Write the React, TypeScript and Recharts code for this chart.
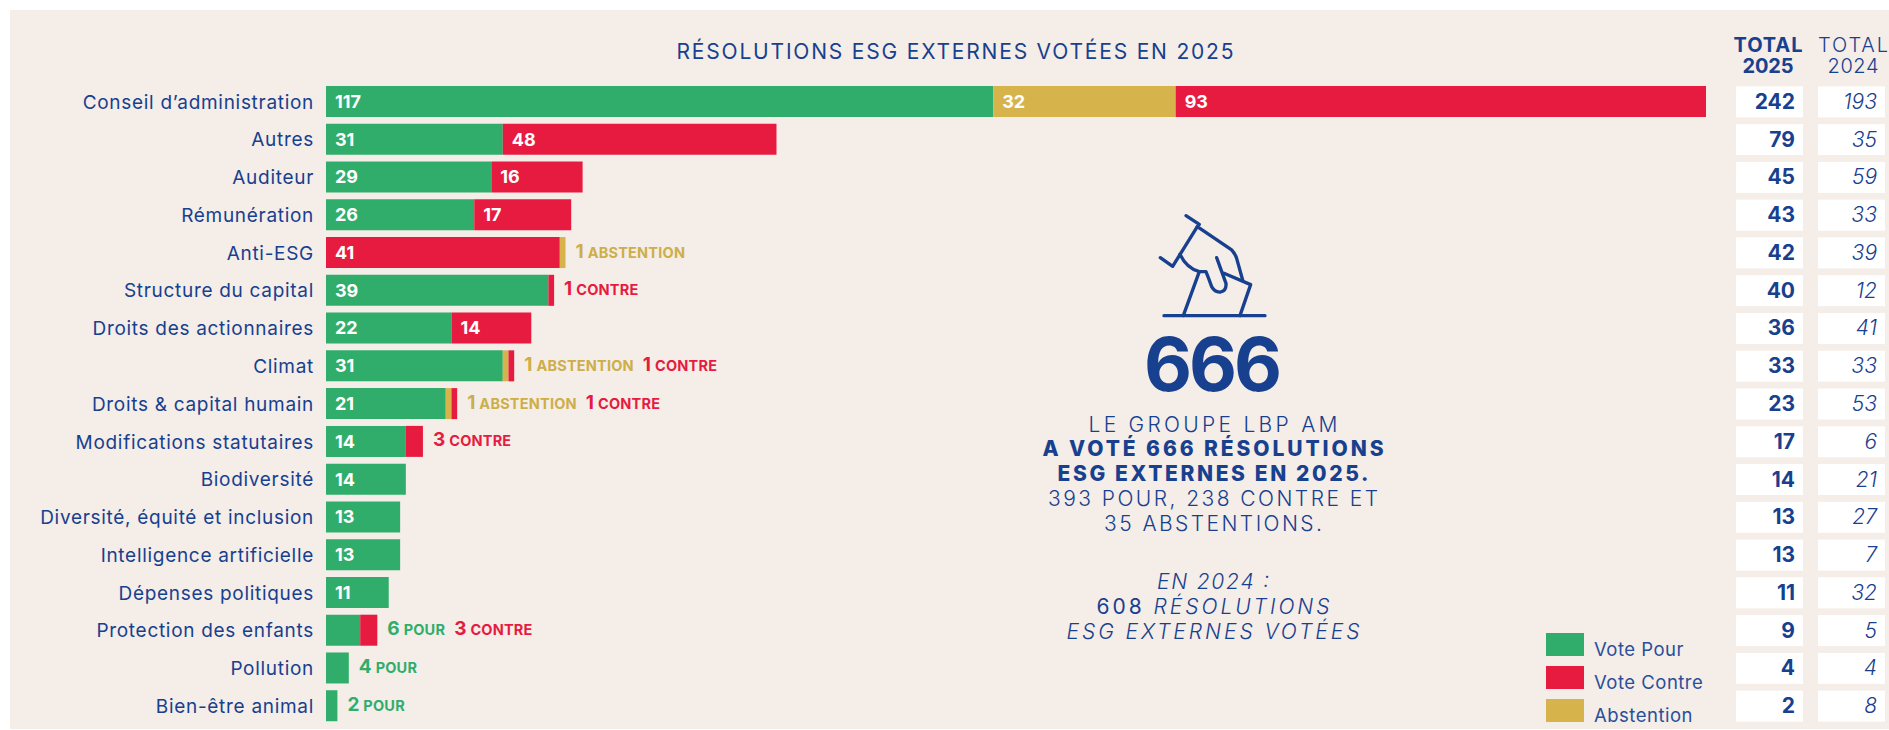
import * as React from "react";
import { BarChart, Bar, XAxis, YAxis, LabelList, Legend } from "recharts";

const categories = [
  "Conseil d’administration", "Autres", "Auditeur", "Rémunération", "Anti-ESG",
  "Structure du capital", "Droits des actionnaires", "Climat", "Droits & capital humain",
  "Modifications statutaires", "Biodiversité", "Diversité, équité et inclusion",
  "Intelligence artificielle", "Dépenses politiques", "Protection des enfants",
  "Pollution", "Bien-être animal",
];
const votePour = [117, 31, 29, 26, 0, 39, 22, 31, 21, 14, 14, 13, 13, 11, 6, 4, 2];
const abstention = [32, 0, 0, 0, 0, 0, 0, 1, 1, 0, 0, 0, 0, 0, 0, 0, 0];
const voteContre = [93, 48, 16, 17, 41, 1, 14, 1, 1, 3, 0, 0, 0, 0, 3, 0, 0];
// Anti-ESG has its abstention after the red segment
const abstentionFin = [0, 0, 0, 0, 1, 0, 0, 0, 0, 0, 0, 0, 0, 0, 0, 0, 0];
const total2025 = [242, 79, 45, 43, 42, 40, 36, 33, 23, 17, 14, 13, 13, 11, 9, 4, 2];
const total2024 = [193, 35, 59, 33, 39, 12, 41, 33, 53, 6, 21, 27, 7, 32, 5, 4, 8];
const legendOrder = ["Vote Pour", "Vote Contre", "Abstention"];

const GREEN = "#30AD6A";
const RED = "#E61B3F";
const GOLD = "#D6B44B";
const NAVY = "#17408F";
const FONT = "Inter, 'Noto Sans', sans-serif";

const PLOT_TOP = 83;
const PLOT_BOTTOM = 5;
const ROW = (730 - PLOT_TOP - PLOT_BOTTOM) / categories.length;

const stackOrder = [votePour, abstention, voteContre, abstentionFin];

const data = categories.map((category, i) => ({
  category,
  pour: votePour[i],
  abstention: abstention[i],
  contre: voteContre[i],
  abstentionFin: abstentionFin[i],
}));

const inner = (v: any) => (v >= 11 ? v : "");

function notesFor(i: number) {
  const out: Array<{ n: number; label: string; color: string }> = [];
  if (votePour[i] > 0 && votePour[i] < 11) out.push({ n: votePour[i], label: "POUR", color: GREEN });
  if (abstention[i] > 0 && abstention[i] < 11) out.push({ n: abstention[i], label: "ABSTENTION", color: "#CDAE48" });
  if (abstentionFin[i] > 0) out.push({ n: abstentionFin[i], label: "ABSTENTION", color: "#CDAE48" });
  if (voteContre[i] > 0 && voteContre[i] < 11) out.push({ n: voteContre[i], label: "CONTRE", color: RED });
  return out;
}

// the notes hang off whichever segment closes the row
// LabelList index skips empty segments, so the row comes from y
function NoteLabel(props: any) {
  const { x, y, width, height, series } = props;
  const row = Math.floor((y + height / 2 - PLOT_TOP) / ROW);
  const last = stackOrder.reduce((acc, s, k) => (s[row] > 0 ? k : acc), 0);
  if (last !== series) return null;
  const notes = notesFor(row);
  if (!notes.length) return null;
  return (
    <text x={x + width + 10} y={y + height / 2 + 5} fontFamily={FONT} fontWeight={700}>
      {notes.map((n, k) => (
        <React.Fragment key={k}>
          <tspan fontSize={19} fill={n.color} dx={k ? 9 : 0}>{n.n}</tspan>
          <tspan fontSize={14.5} fill={n.color} dx={4} letterSpacing={0.2}>{n.label}</tspan>
        </React.Fragment>
      ))}
    </text>
  );
}

function TotalsTick(props: any) {
  const { y, index } = props;
  return (
    <g fontFamily={FONT} fontSize={21}>
      <rect x={1736} y={y - 15.5} width={67} height={31} fill="#fff" />
      <rect x={1818} y={y - 15.5} width={67} height={31} fill="#fff" />
      <text x={1795} y={y + 7} textAnchor="end" fontWeight={700} fill={NAVY}>{total2025[index]}</text>
      <text x={1877} y={y + 7} textAnchor="end" fontWeight={300} fontStyle="italic" fill={NAVY}>{total2024[index]}</text>
    </g>
  );
}

function LegendBox(props: any) {
  const items = legendOrder.map((name) => props.payload.find((p: any) => p.value === name)).filter(Boolean);
  return (
    <div style={{ fontFamily: FONT, fontSize: 18.5, color: "#2A4F9A" }}>
      {items.map((item: any) => (
        <div key={item.value} style={{ display: "flex", height: 33 }}>
          <span style={{ width: 38, height: 23, background: item.color, marginRight: 10 }} />
          <span style={{ lineHeight: "32px", letterSpacing: 0.5, whiteSpace: "nowrap" }}>{item.value}</span>
        </div>
      ))}
    </div>
  );
}

function Line({ y, w, weight = 300, italic = false, size = 21, children }: any) {
  return (
    <text x={1213} y={y} textAnchor="middle" textLength={w} fontFamily={FONT} fontSize={size} fontWeight={weight}
      fontStyle={italic ? "italic" : "normal"} fill={NAVY}>
      {children}
    </text>
  );
}

export default function App() {
  return (
    <div style={{ position: "absolute", left: 0, top: 0, width: 1889, height: 730, background: "#fff" }}>
      <div style={{ position: "absolute", left: 10, top: 10, width: 1879, height: 719, background: "#F4EDE8" }} />
      <div style={{ position: "absolute", left: 0, top: 0 }}>
        <BarChart width={1889} height={730} data={data} layout="vertical" barSize={31}
          margin={{ top: PLOT_TOP, right: 0, bottom: PLOT_BOTTOM, left: 0 }}>
          <XAxis type="number" hide domain={[0, 242]} />
          <YAxis type="category" dataKey="category" width={326} interval={0} axisLine={false} tickLine={false}
            tickSize={0} tickMargin={12} tick={{ fontFamily: FONT, fontSize: 19, fill: NAVY, letterSpacing: 0.7 }} />
          <YAxis yAxisId="totals" orientation="right" type="category" dataKey="category" width={183} interval={0}
            axisLine={false} tickLine={false} tick={<TotalsTick />} />
          <Bar dataKey="pour" name="Vote Pour" stackId="a" fill={GREEN} isAnimationActive={false}>
            <LabelList dataKey="pour" position="insideLeft" offset={9} formatter={inner} fill="#fff" fontFamily={FONT} fontSize={18} fontWeight={700} />
            <LabelList dataKey="pour" content={<NoteLabel series={0} />} />
          </Bar>
          <Bar dataKey="abstention" name="Abstention" stackId="a" fill={GOLD} isAnimationActive={false}>
            <LabelList dataKey="abstention" position="insideLeft" offset={9} formatter={inner} fill="#fff" fontFamily={FONT} fontSize={18} fontWeight={700} />
            <LabelList dataKey="abstention" content={<NoteLabel series={1} />} />
          </Bar>
          <Bar dataKey="contre" name="Vote Contre" stackId="a" fill={RED} isAnimationActive={false}>
            <LabelList dataKey="contre" position="insideLeft" offset={9} formatter={inner} fill="#fff" fontFamily={FONT} fontSize={18} fontWeight={700} />
            <LabelList dataKey="contre" content={<NoteLabel series={2} />} />
          </Bar>
          <Bar dataKey="abstentionFin" stackId="a" fill={GOLD} legendType="none" isAnimationActive={false}>
            <LabelList dataKey="abstentionFin" content={<NoteLabel series={3} />} />
          </Bar>
          <Legend layout="horizontal" align="center" verticalAlign="middle" content={<LegendBox />}
            wrapperStyle={{ left: 1546, top: 633, width: 200, bottom: "auto", right: "auto" }} />

          <text x={955} y={59} textAnchor="middle" textLength={557} fontFamily={FONT} fontSize={21} fill={NAVY}>
            RÉSOLUTIONS ESG EXTERNES VOTÉES EN 2025
          </text>
          <g fontFamily={FONT} fontSize={20} textAnchor="middle" fill={NAVY}>
            <text x={1768} y={52} fontWeight={700} textLength={69}>TOTAL</text>
            <text x={1768} y={73} fontWeight={700} textLength={51}>2025</text>
            <text x={1853} y={52} fontWeight={300} textLength={70}>TOTAL</text>
            <text x={1853} y={73} fontWeight={300} textLength={51}>2024</text>
          </g>

          {/* ballot icon */}
          <g transform="translate(1000,190) scale(0.3333)" fill="none" stroke={NAVY} strokeWidth={10} strokeLinecap="round" strokeLinejoin="round">
            <path d="M558 77 L598 103" />
            <path d="M592 110 L695 180 Q705 190 710 205 L728 270" />
            <path d="M592 110 L518 229 L481 203" />
            <path d="M540 193 Q560 235 598 245 L618 245 Q628 270 635 290 Q645 308 662 306 Q680 302 678 280 L650 203" />
            <path d="M672 250 L752 284 L720 377" />
            <path d="M598 245 L550 377" />
            <path d="M492 377 L795 377" />
          </g>

          <text x={1213} y={391} textAnchor="middle" textLength={138} fontFamily={FONT} fontSize={74} fontWeight={700} fill={NAVY}>666</text>
          <Line y={432} w={249}>LE GROUPE LBP AM</Line>
          <Line y={456} w={341} weight={800}>A VOTÉ 666 RÉSOLUTIONS</Line>
          <Line y={481} w={311} weight={800}>ESG EXTERNES EN 2025.</Line>
          <Line y={506} w={330}>393 POUR, 238 CONTRE ET</Line>
          <Line y={531} w={218}>35 ABSTENTIONS.</Line>
          <Line y={589} w={112} italic>EN 2024 :</Line>
          <Line y={614} w={233} italic>
            <tspan fontStyle="normal" fontWeight={400}>608</tspan> RÉSOLUTIONS
          </Line>
          <Line y={639} w={293} italic>ESG EXTERNES VOTÉES</Line>
        </BarChart>
      </div>
    </div>
  );
}
